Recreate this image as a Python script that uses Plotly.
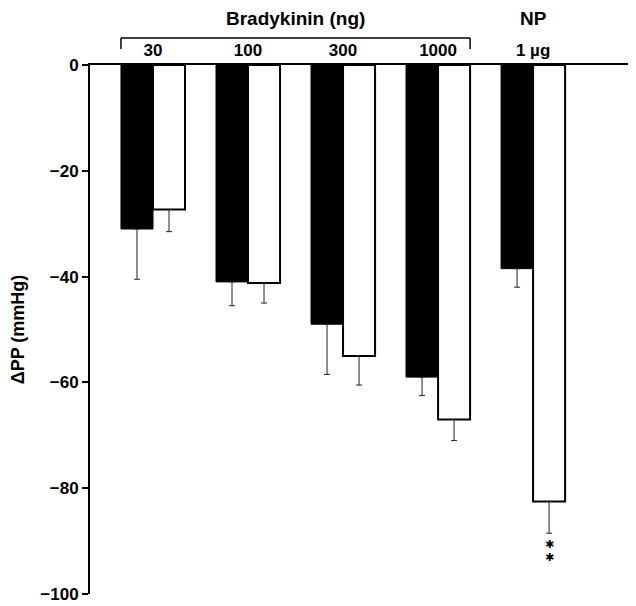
import plotly.graph_objects as go

groups = ["30", "100", "300", "1000", "1 µg"]
black_vals = [-31, -41, -49, -59, -38.5]
black_err = [9.5, 4.5, 9.5, 3.5, 3.5]
white_vals = [-27.3, -41.2, -55, -67, -82.5]
white_err = [4.2, 3.8, 5.5, 4.0, 6.0]
sig_counts = [0, 0, 0, 0, 2]

y_ticks = [0, -20, -40, -60, -80, -100]

font_family = "Liberation Sans, Arial, sans-serif"
bargap = 0.326
bar_w = (1 - bargap) / 2

# page body has an 8px default margin; the figure is sized to fill the rest
PAGE_OFF = 8
W, H = 636 - PAGE_OFF, 606 - PAGE_OFF
M_T, M_B = 57, 12

fig = go.Figure()
fig.add_trace(go.Bar(
    x=groups, y=black_vals, name="control",
    marker=dict(color="black", line=dict(color="black", width=1)),
    error_y=dict(type="data", symmetric=False, array=[0]*len(groups), arrayminus=black_err,
                 color="#222", thickness=1, width=3),
))
fig.add_trace(go.Bar(
    x=groups, y=white_vals, name="treated",
    marker=dict(color="white", line=dict(color="black", width=2)),
    error_y=dict(type="data", symmetric=False, array=[0]*len(groups), arrayminus=white_err,
                 color="#222", thickness=1, width=3),
))

# significance markers (stacked asterisks)
for i, n in enumerate(sig_counts):
    for k in range(n):
        fig.add_annotation(x=i + bar_w / 2, y=white_vals[i] - white_err[i], xref="x", yref="y",
                           text="✱", showarrow=False, yanchor="top", yshift=-3 - 12.5 * k,
                           font=dict(size=11, family="DejaVu Sans", color="black"))

# bracket over bradykinin doses
left = 0 - bar_w
right = 3 + bar_w
plot_h = H - M_T - M_B
yb_top = 1 + 27 / plot_h
yb_bot = 1 + 16 / plot_h
for x0, x1, y0, y1 in [(left, right, yb_top, yb_top), (left, left, yb_top, yb_bot), (right, right, yb_top, yb_bot)]:
    fig.add_shape(type="line", xref="x", yref="paper", x0=x0, x1=x1, y0=y0, y1=y1,
                  line=dict(color="black", width=1.5))

fig.add_annotation(x=1.5, y=1, xref="x", yref="paper", yshift=47, text="Bradykinin (ng)",
                   showarrow=False, yanchor="middle",
                   font=dict(size=19, family=font_family, color="black", weight="bold"))
fig.add_annotation(x=4, y=1, xref="x", yref="paper", yshift=47, text="NP",
                   showarrow=False, yanchor="middle",
                   font=dict(size=19, family=font_family, color="black", weight="bold"))

fig.update_layout(
    width=W, height=H,
    margin=dict(l=82, r=6, t=M_T, b=M_B, autoexpand=False),
    plot_bgcolor="white", paper_bgcolor="white",
    barmode="group", bargap=bargap, bargroupgap=0,
    showlegend=False,
    font=dict(family=font_family, color="black"),
)
fig.update_xaxes(
    type="category", side="top", range=[-0.663, 5.02], automargin=False,
    showline=True, linecolor="black", linewidth=2,
    ticks="", showgrid=False, zeroline=False,
    tickfont=dict(size=17, family=font_family, color="black", weight="bold"),
    ticklabelstandoff=0,
)
fig.update_yaxes(
    range=[-100, 0], tickvals=y_ticks, automargin=False,
    showline=True, linecolor="black", linewidth=2,
    ticks="outside", ticklen=6, tickwidth=1.5, tickcolor="black",
    showgrid=False, zeroline=False, ticklabeloverflow="allow",
    tickfont=dict(size=17, family=font_family, color="black", weight="bold"),
    title=dict(text="ΔPP (mmHg)", standoff=14,
               font=dict(size=18, family=font_family, color="black", weight="bold")),
)

fig.write_html("out.html")
